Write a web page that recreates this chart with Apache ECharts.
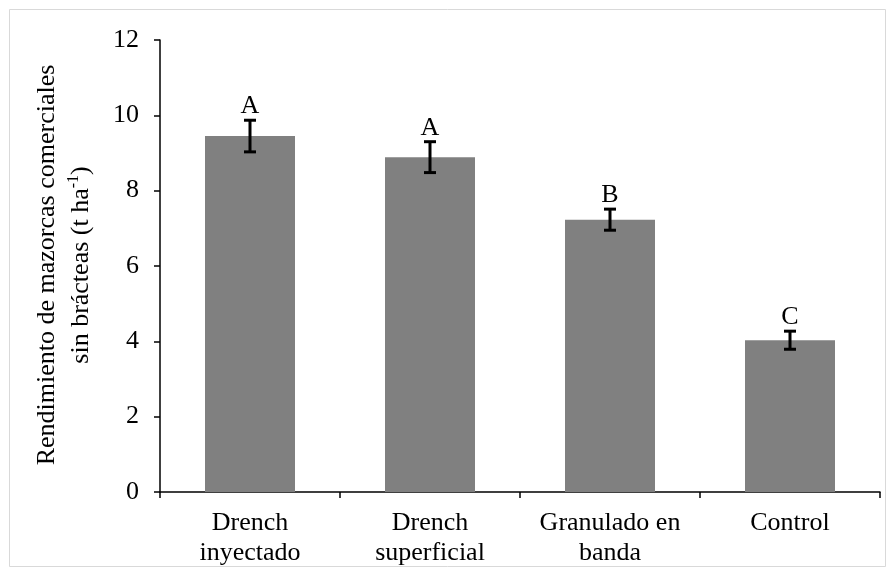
<!DOCTYPE html>
<html>
<head>
<meta charset="utf-8">
<script src="https://cdn.jsdelivr.net/npm/echarts@6/dist/echarts.min.js"></script>
<style>
  html, body { margin: 0; padding: 0; background: #fff; }
  #chart { width: 896px; height: 577px; }
</style>
</head>
<body>
<div id="chart"></div>
<script>
// Treatments and yield of marketable husked ears (t/ha)
const categories = ['Drench\ninyectado', 'Drench\nsuperficial', 'Granulado en\nbanda', 'Control'];
const yieldMeans = [9.45, 8.89, 7.23, 4.03];
const yieldErrors = [0.42, 0.41, 0.28, 0.24];
const groupLetters = ['A', 'A', 'B', 'C'];
const yTicks = [0, 2, 4, 6, 8, 10, 12];

const FONT = '"Liberation Serif", "Times New Roman", serif';

const chart = echarts.init(document.getElementById('chart'), null, { renderer: 'canvas' });

const errorData = yieldMeans.map((m, i) => [i, m - yieldErrors[i], m + yieldErrors[i], groupLetters[i]]);

chart.setOption({
  animation: false,
  backgroundColor: '#fff',
  grid: { left: 160, right: 16, top: 40, bottom: 85, containLabel: false },
  graphic: [
    {
      type: 'rect',
      shape: { x: 9.5, y: 9.5, width: 876, height: 557 },
      style: { fill: 'none', stroke: '#d9d9d9', lineWidth: 1 },
      silent: true
    },
    {
      type: 'text',
      x: 64, y: 265,
      rotation: Math.PI / 2,
      style: {
        text: '{t|Rendimiento de mazorcas comerciales}\n{t|sin brácteas (t ha}{s|-1}{t|)}',
        align: 'center',
        verticalAlign: 'middle',
        rich: {
          t: { fontFamily: FONT, fontSize: 26, fill: '#000', lineHeight: 34 },
          s: { fontFamily: FONT, fontSize: 16, fill: '#000', lineHeight: 34, padding: [0, 0, 14, 0] }
        }
      },
      silent: true
    }
  ],
  xAxis: {
    type: 'category',
    data: categories,
    axisLine: { lineStyle: { color: '#000', width: 1.5 } },
    axisTick: { show: true, interval: 0, alignWithLabel: false, length: 6, lineStyle: { color: '#000', width: 1.5 } },
    axisLabel: { interval: 0, color: '#000', fontFamily: FONT, fontSize: 26, lineHeight: 30, margin: 16 },
    splitLine: { show: false }
  },
  yAxis: {
    type: 'value',
    min: 0, max: 12, interval: 2,
    axisLine: { show: true, lineStyle: { color: '#000', width: 1.5 } },
    axisTick: { show: true, length: 6, lineStyle: { color: '#000', width: 1.5 } },
    axisLabel: {
      color: '#000', fontFamily: FONT, fontSize: 26, margin: 21,
      formatter: v => (yTicks.indexOf(v) >= 0 ? String(v) : '')
    },
    splitLine: { show: false }
  },
  series: [
    {
      type: 'bar',
      data: yieldMeans,
      barWidth: '50%',
      itemStyle: { color: '#808080' },
      silent: true
    },
    {
      type: 'custom',
      data: errorData,
      silent: true,
      z: 10,
      renderItem: function (params, api) {
        const x = api.coord([api.value(0), 0])[0];
        const lo = api.coord([api.value(0), api.value(1)])[1];
        const hi = api.coord([api.value(0), api.value(2)])[1];
        const half = 6;
        const style = { stroke: '#000', lineWidth: 3 };
        return {
          type: 'group',
          children: [
            { type: 'line', shape: { x1: x, y1: hi, x2: x, y2: lo }, style },
            { type: 'line', shape: { x1: x - half, y1: hi, x2: x + half, y2: hi }, style },
            { type: 'line', shape: { x1: x - half, y1: lo, x2: x + half, y2: lo }, style },
            {
              type: 'text',
              x: x, y: hi - 1,
              style: {
                text: groupLetters[params.dataIndex],
                fontFamily: FONT, fontSize: 26, fill: '#000',
                align: 'center', verticalAlign: 'bottom'
              }
            }
          ]
        };
      }
    }
  ]
});
</script>
</body>
</html>
